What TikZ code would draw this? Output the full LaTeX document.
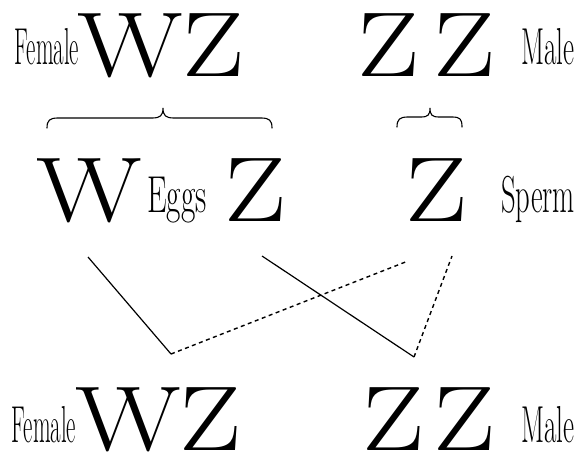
\documentclass[tikz,border=0pt]{standalone}
\usepackage{fontspec}
\newcommand{\WideGlyph}[1]{\scalebox{1.2}[1]{#1}}
\begin{document}
\begin{tikzpicture}[x=1pt,y=-1pt,
  big/.style={inner sep=0pt, anchor=base, font=\fontsize{92}{92}\selectfont},
  lab/.style={inner sep=0pt, anchor=base, font=\fontsize{52}{52}\selectfont},
  solidline/.style={line width=1.2pt},
  dotline/.style={line width=1.4pt, dash pattern=on 4pt off 3.5pt},
  bracestyle/.style={line width=1.1pt, line cap=round}]
\useasboundingbox (0,0) rectangle (580,454);
% top row
\node[lab] (fem1) at (47,65) {\scalebox{0.44}[1]{Female}};
\node[big] (w1) at (130,77) {\WideGlyph{W}};
\node[big] (z1) at (214,77) {\WideGlyph{Z}};
\node[big] (z2) at (389,77) {\WideGlyph{Z}};
\node[big] (z3) at (465,77) {\WideGlyph{Z}};
\node[lab] (male1) at (548,65) {\scalebox{0.52}[1]{Male}};
% braces
\draw[bracestyle] (47,128) .. controls (47,120) and (50,118) .. (58,118) -- (152,118)
  .. controls (160,118) and (163,116) .. (163,108)
  .. controls (163,116) and (166,118) .. (174,118) -- (261,118)
  .. controls (269,118) and (272,120) .. (272,128);
\draw[bracestyle] (397,127) .. controls (397,119) and (400,117) .. (408,117) -- (421,117)
  .. controls (428,117) and (430,115) .. (430,108)
  .. controls (430,115) and (432,117) .. (439,117) -- (452,117)
  .. controls (460,117) and (462,119) .. (462,127);
% middle row
\node[big] (mw) at (89,222) {\WideGlyph{W}};
\node[lab] (eggs) at (177,212) {\scalebox{0.6}[1]{Eggs}};
\node[big] (mz) at (256,222) {\WideGlyph{Z}};
\node[big] (sz) at (437,222) {\WideGlyph{Z}};
\node[lab] (sperm) at (538,212) {\scalebox{0.55}[1]{Sperm}};
% connectors
\coordinate (a1) at (88,257);
\coordinate (a2) at (262,256);
\coordinate (b1) at (408,261);
\coordinate (b2) at (452,256);
\coordinate (v1) at (171,354);
\coordinate (v2) at (414,357);
\draw[solidline] (a1) -- (v1);
\draw[solidline] (a2) -- (v2);
\draw[dotline] (v1) -- (b1);
\draw[dotline] (v2) -- (b2);
% bottom row
\node[lab] (fem2) at (44,442) {\scalebox{0.44}[1]{Female}};
\node[big] (w2) at (128,450) {\WideGlyph{W}};
\node[big] (z4) at (211,450) {\WideGlyph{Z}};
\node[big] (z5) at (394,450) {\WideGlyph{Z}};
\node[big] (z6) at (465,450) {\WideGlyph{Z}};
\node[lab] (male2) at (548,442) {\scalebox{0.52}[1]{Male}};
\end{tikzpicture}
\end{document}
